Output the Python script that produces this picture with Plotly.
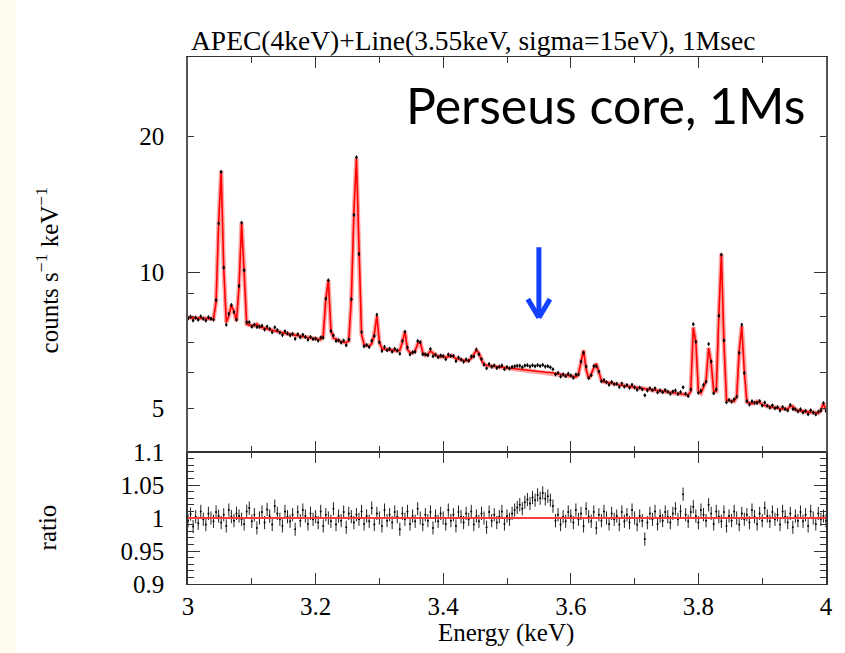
import numpy as np
import plotly.graph_objects as go

# ---------------- data ----------------
E_START = 3.0
E_STEP = 0.004
N_BINS = 251
energy = [round(E_START + E_STEP * i, 3) for i in range(N_BINS)]

# model (red curve), counts s^-1 keV^-1, on the energy grid above
model = [
    7.94, 7.93, 7.93, 7.92, 7.92, 7.91, 7.91, 7.90, 7.90, 7.89,   # 3.000-3.036
    7.89, 8.60, 12.8, 16.8, 10.2, 7.75, 8.00, 8.45, 8.20, 7.80,   # 3.040-3.076
    9.30, 12.9, 10.2, 7.68, 7.64, 7.62, 7.62, 7.68, 7.58, 7.55,   # 3.080-3.116
    7.52, 7.49, 7.47, 7.44, 7.42, 7.40, 7.37, 7.35, 7.33, 7.31,   # 3.120-3.156
    7.29, 7.27, 7.25, 7.23, 7.21, 7.19, 7.17, 7.16, 7.14, 7.13,   # 3.160-3.196
    7.12, 7.11, 7.10, 7.25, 8.70, 9.60, 7.45, 7.15, 7.12, 7.05,   # 3.200-3.236
    7.02, 7.00, 6.99, 7.05, 8.70, 13.5, 17.9, 11.0, 7.30, 6.92,   # 3.240-3.276
    6.88, 6.87, 6.95, 7.30, 8.00, 7.00, 6.78, 6.76, 6.75, 6.74,   # 3.280-3.316
    6.72, 6.71, 6.70, 6.72, 7.00, 7.40, 6.75, 6.64, 6.63, 6.70,   # 3.320-3.356
    6.95, 7.00, 6.65, 6.55, 6.58, 6.70, 6.62, 6.55, 6.52, 6.50,   # 3.360-3.396
    6.52, 6.48, 6.50, 6.55, 6.50, 6.44, 6.42, 6.40, 6.38, 6.37,   # 3.400-3.436
    6.38, 6.45, 6.58, 6.72, 6.62, 6.38, 6.25, 6.22, 6.21, 6.20,   # 3.440-3.476
    6.19, 6.18, 6.17, 6.16, 6.16, 6.15, 6.14, 6.13, 6.12, 6.11,   # 3.480-3.516
    6.09, 6.08, 6.07, 6.06, 6.05, 6.04, 6.03, 6.02, 6.02, 6.01,   # 3.520-3.556
    6.01, 6.00, 6.00, 5.99, 5.97, 5.96, 5.94, 5.93, 5.92, 5.91,   # 3.560-3.596
    5.89, 5.88, 5.87, 5.95, 6.30, 6.72, 6.10, 5.82, 5.95, 6.15,   # 3.600-3.636
    6.28, 6.00, 5.76, 5.72, 5.71, 5.69, 5.68, 5.66, 5.65, 5.63,   # 3.640-3.676
    5.62, 5.61, 5.60, 5.59, 5.57, 5.56, 5.55, 5.54, 5.53, 5.52,   # 3.680-3.716
    5.51, 5.50, 5.49, 5.48, 5.47, 5.46, 5.45, 5.44, 5.43, 5.42,   # 3.720-3.756
    5.41, 5.40, 5.39, 5.38, 5.37, 5.36, 5.35, 5.45, 7.55, 7.00,   # 3.760-3.796
    5.45, 5.40, 5.60, 5.75, 6.80, 6.30, 5.45, 5.45, 8.00, 11.0,   # 3.800-3.836
    7.00, 5.22, 5.20, 5.19, 5.18, 5.30, 6.70, 7.60, 6.00, 5.16,   # 3.840-3.876
    5.13, 5.12, 5.13, 5.18, 5.15, 5.09, 5.07, 5.05, 5.04, 5.03,   # 3.880-3.916
    5.01, 5.00, 4.99, 4.98, 4.97, 4.98, 5.05, 5.05, 4.96, 4.94,   # 3.920-3.956
    4.93, 4.92, 4.91, 4.91, 4.90, 4.89, 4.89, 4.88, 4.95, 5.12,   # 3.960-3.996
    4.95,                                                         # 4.000
]

# data / model ratio (lower panel)
ratio = [
    0.996, 1.006, 0.987, 1.002, 0.992, 1.010, 0.998, 0.990, 1.007, 1.000,
    0.995, 1.009, 1.003, 0.993, 1.005, 0.988, 1.012, 1.002, 0.996, 1.007,
    1.003, 0.998, 0.991, 1.010, 1.015, 0.995, 1.005, 0.985, 1.000, 1.009,
    0.993, 1.013, 1.003, 0.990, 1.018, 1.007, 0.998, 0.988, 1.010, 1.002,
    0.995, 1.005, 0.983, 1.009, 0.996, 1.012, 1.003, 0.991, 1.007, 0.998,
    1.002, 0.993, 1.010, 0.988, 1.005, 1.000, 0.995, 1.014, 0.990, 1.003,
    0.996, 1.009, 0.986, 1.007, 1.002, 0.993, 1.005, 0.998, 1.010, 0.991,
    1.003, 0.995, 1.015, 0.990, 1.007, 1.000, 0.988, 1.012, 0.996, 1.005,
    0.993, 1.009, 1.002, 0.983, 1.007, 0.998, 1.010, 0.991, 1.003, 0.995,
    1.014, 1.000, 0.990, 1.005, 0.996, 1.009, 0.985, 1.003, 0.995, 1.007,
    1.000, 0.991, 1.012, 0.996, 1.005, 0.988, 1.009, 1.002, 0.993, 1.007,
    0.998, 1.010, 0.990, 1.003, 0.995, 1.007, 1.000, 0.986, 1.009, 0.996,
    1.005, 0.993, 1.002, 1.010, 0.991, 1.003, 0.998, 1.007, 1.012, 1.016,
    1.020, 1.014, 1.024, 1.028, 1.022, 1.031, 1.027, 1.035, 1.030, 1.038,
    1.029, 1.033, 1.027, 1.018, 0.996, 1.005, 0.990, 1.002, 0.995, 1.009,
    1.003, 0.993, 1.012, 0.998, 1.007, 0.988, 1.014, 1.002, 0.995, 1.009,
    0.985, 1.005, 0.996, 1.010, 1.000, 0.991, 1.007, 0.998, 1.003, 0.990,
    1.009, 0.995, 1.005, 0.993, 1.012, 1.000, 0.990, 1.003, 0.996, 0.968,
    0.993, 1.007, 0.998, 1.010, 0.991, 1.003, 0.996, 1.009, 1.002, 0.993,
    1.007, 1.014, 0.998, 1.010, 1.036, 1.005, 0.995, 1.009, 1.017, 1.003,
    0.993, 1.012, 1.005, 0.996, 1.020, 1.007, 0.991, 1.010, 1.002, 0.995,
    1.009, 0.988, 1.003, 0.996, 1.010, 1.000, 0.990, 1.007, 0.998, 1.005,
    0.993, 1.012, 1.002, 0.991, 1.007, 0.996, 1.015, 1.003, 0.995, 1.009,
    0.998, 1.005, 0.990, 1.010, 1.002, 0.993, 1.007, 0.986, 1.003, 0.996,
    1.009, 0.995, 1.005, 0.988, 1.010, 1.000, 0.991, 1.007, 0.998, 1.003,
    0.996,
]
ERR_FRAC = 0.010  # 1-sigma relative error of each bin

assert len(model) == N_BINS and len(ratio) == N_BINS

x_tickvals = [3.0, 3.2, 3.4, 3.6, 3.8, 4.0]
x_ticktext = ["3", "3.2", "3.4", "3.6", "3.8", "4"]
top_tickvals = [5, 10, 20]
top_ticktext = ["5", "10", "20"]
top_minor = [6, 7, 8, 9]
ratio_tickvals = [0.9, 0.95, 1.0, 1.05, 1.1]
ratio_ticktext = ["0.9", "0.95", "1", "1.05", "1.1"]

ARROW_E = 3.55
ARROW_TIP, ARROW_TAIL = 7.94, 11.46

title_text = "APEC(4keV)+Line(3.55keV, sigma=15eV), 1Msec"
label_text = "Perseus core, 1Ms"

# ---------------- derived ----------------
counts = [m * r for m, r in zip(model, ratio)]
count_err = [c * ERR_FRAC for c in counts]
ratio_err = [ERR_FRAC] * N_BINS

# ---------------- figure ----------------
W, H = 845, 653
ML, MR, MT, MB = 188, 17, 57, 69
plot_h = H - MT - MB
split = (584 - 452) / plot_h

SERIF = "Liberation Serif"
LINE = "#333333"
BLUE = "#1440ff"

fig = go.Figure()

# upper panel: model halo + model + data
fig.add_trace(go.Scatter(x=energy, y=model, mode="lines", xaxis="x2", yaxis="y2",
                         line=dict(color="rgba(255,0,0,0.35)", width=4.5),
                         hoverinfo="skip", showlegend=False))
fig.add_trace(go.Scatter(x=energy, y=model, mode="lines", xaxis="x2", yaxis="y2",
                         line=dict(color="#ff0000", width=1.6), showlegend=False))
fig.add_trace(go.Scatter(x=energy, y=counts, mode="markers", xaxis="x2", yaxis="y2",
                         marker=dict(color="black", size=2.5),
                         error_y=dict(type="data", array=count_err, color="black",
                                      thickness=1, width=0),
                         showlegend=False))
# empty trace carrying the long decade-tick axis
fig.add_trace(go.Scatter(x=[], y=[], xaxis="x2", yaxis="y3", showlegend=False))

# lower panel: ratio
fig.add_trace(go.Scatter(x=energy, y=ratio, mode="markers", xaxis="x", yaxis="y",
                         marker=dict(color="black", size=2),
                         error_y=dict(type="data", array=ratio_err, color="#222222",
                                      thickness=1, width=0),
                         showlegend=False))
fig.add_hline(y=1.0, line=dict(color="#ff3b3b", width=2), xref="x", yref="y")

tickfont = dict(family=SERIF, size=25, color="black")
common_x = dict(range=[3, 4], showline=True, linecolor=LINE, linewidth=1,
                mirror="ticks", ticks="inside", ticklen=11, tickwidth=1.2,
                tickcolor=LINE, tickvals=x_tickvals, ticktext=x_ticktext,
                minor=dict(dtick=0.1, tick0=3, ticks="inside", ticklen=6,
                           tickwidth=1.2, tickcolor=LINE),
                showgrid=False, zeroline=False, tickfont=tickfont)

fig.update_layout(
    width=W, height=H,
    margin=dict(l=ML, r=MR, t=MT, b=MB),
    paper_bgcolor="white", plot_bgcolor="white",
    xaxis=dict(**common_x, domain=[0, 1], anchor="y", ticklabelstandoff=0),
    xaxis2=dict(**common_x, domain=[0, 1], anchor="y2", matches="x",
                showticklabels=False),
    yaxis=dict(domain=[0, split], range=[0.9, 1.1], showline=True,
               linecolor=LINE, linewidth=1.5, mirror="ticks", ticks="inside",
               ticklen=12, tickwidth=1.2, tickcolor=LINE,
               tickvals=ratio_tickvals, ticktext=ratio_ticktext,
               minor=dict(dtick=0.01, tick0=0.9, ticks="inside", ticklen=6,
                          tickwidth=1.2, tickcolor=LINE),
               showgrid=False, zeroline=False, tickfont=tickfont,
               ticklabelstandoff=17),
    yaxis2=dict(domain=[split, 1], type="log", range=[np.log10(4), np.log10(30)],
                showline=True, linecolor="#555555", linewidth=1.5, mirror="ticks",
                ticks="inside", ticklen=6, tickwidth=1.2, tickcolor=LINE,
                tickvals=top_tickvals, ticktext=top_ticktext,
                minor=dict(tickvals=top_minor, ticks="inside", ticklen=6,
                           tickwidth=1.2, tickcolor=LINE),
                showgrid=False, zeroline=False, tickfont=tickfont,
                ticklabelstandoff=17),
    yaxis3=dict(overlaying="y2", type="log", range=[np.log10(4), np.log10(30)],
                showline=False, mirror="ticks", ticks="inside", ticklen=12,
                tickwidth=1.2, tickcolor=LINE, tickvals=[10],
                showticklabels=False, showgrid=False, zeroline=False),
    showlegend=False,
)

# left cream strip
fig.add_shape(type="rect", xref="paper", yref="paper",
              x0=(0 - ML) / 640, x1=(15 - ML) / 640,
              y0=-MB / plot_h - 0.01, y1=1 + MT / plot_h + 0.01,
              fillcolor="#fffdf0", line=dict(width=0), layer="below")

ann = []
ann.append(dict(text=title_text, xref="paper", yref="paper", x=(189 - ML) / 640,
                y=(584 - 40) / plot_h, xanchor="left", yanchor="middle",
                showarrow=False, font=dict(family=SERIF, size=27.5, color="black")))
ann.append(dict(text=label_text, xref="paper", yref="paper", x=(809 - ML) / 640,
                y=(584 - 105) / plot_h, xanchor="right", yanchor="middle",
                showarrow=False, font=dict(family="Lato", size=50, color="black")))
ann.append(dict(text="counts s<sup>−1</sup> keV<sup>−1</sup>", xref="paper", yref="paper",
                x=(47 - ML) / 640, y=(584 - 270) / plot_h, textangle=-90,
                xanchor="center", yanchor="middle", showarrow=False,
                font=dict(family=SERIF, size=25, color="black")))
ann.append(dict(text="ratio", xref="paper", yref="paper",
                x=(47 - ML) / 640, y=(584 - 527) / plot_h, textangle=-90,
                xanchor="center", yanchor="middle", showarrow=False,
                font=dict(family=SERIF, size=25, color="black")))
ann.append(dict(text="Energy (keV)", xref="paper", yref="paper",
                x=(507 - ML) / 640, y=(584 - 633) / plot_h,
                xanchor="center", yanchor="middle", showarrow=False,
                font=dict(family=SERIF, size=25, color="black")))
# blue arrow: shaft + open chevron head (arms given as pixel offsets from the tip)
ann.append(dict(text="", x=ARROW_E, y=np.log10(ARROW_TIP), xref="x2", yref="y2",
                ax=ARROW_E, ay=np.log10(ARROW_TAIL), axref="x2", ayref="y2",
                showarrow=True, arrowhead=0, arrowwidth=5,
                arrowcolor=BLUE, standoff=0))
for dx in (-12, 12):
    ann.append(dict(text="", x=ARROW_E, y=np.log10(ARROW_TIP), xref="x2", yref="y2",
                    ax=dx, ay=-20, showarrow=True, arrowhead=0, arrowwidth=5,
                    arrowcolor=BLUE, standoff=0))
fig.update_layout(annotations=ann)

fig.write_html("out.html")
